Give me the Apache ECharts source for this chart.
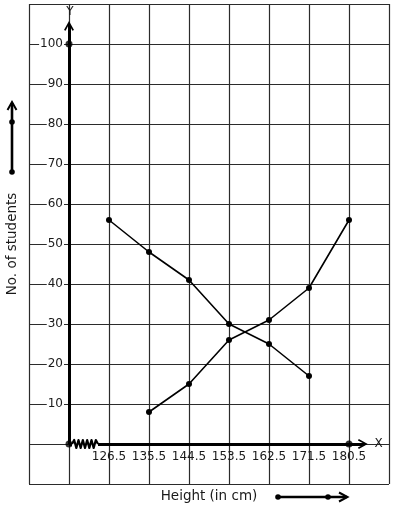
<!DOCTYPE html>
<html><head><meta charset="utf-8">
<script src="https://cdn.jsdelivr.net/npm/echarts@6/dist/echarts.min.js"></script>
<style>html,body{margin:0;padding:0;background:#fff}#c{width:394px;height:510px}</style>
</head><body><div id="c"></div>
<script>
// ---- data ----
const xTickLabels = [126.5, 135.5, 144.5, 153.5, 162.5, 171.5, 180.5];
const lessThanX = [135.5, 144.5, 153.5, 162.5, 171.5, 180.5];
const lessThanY = [8, 15, 26, 31, 39, 56];
const moreThanX = [126.5, 135.5, 144.5, 153.5, 162.5, 171.5];
const moreThanY = [56, 48, 41, 30, 25, 17];
const yTickLabels = [10, 20, 30, 40, 50, 60, 70, 80, 90, 100];
const axisPointX = [117.5, 117.5, 180.5];
const axisPointY = [100, 0, 0];
const breakAt = [121.1, 0];

const FONT = 'DejaVu Sans';
const INK = '#1a1a1a';
const GRID = '#2b2b2b';
const chevron = 'path://M0,9 L5,0 L10,9 L8.4,9.8 L5,3.2 L1.6,9.8 Z M4.1,1.5 L5.9,1.5 L5.9,10 L4.1,10 Z';

const chart = echarts.init(document.getElementById('c'), null, {renderer: 'canvas'});
chart.setOption({
  animation: false,
  backgroundColor: '#fff',
  grid: {left: 29, right: 5, top: 4, bottom: 26, containLabel: false, outerBoundsMode: 'none'},
  xAxis: {
    type: 'value', min: 108.5, max: 189.5, interval: 9, offset: -40,
    axisLine: {show: true, onZero: false, lineStyle: {color: 'rgba(0,0,0,0)'}},
    axisTick: {show: false},
    axisLabel: {
      margin: 7, color: INK, fontFamily: FONT, fontSize: 12,
      formatter: v => (xTickLabels.some(t => Math.abs(t - v) < 1e-6) ? String(v) : '')
    },
    splitLine: {show: true, lineStyle: {color: GRID, width: 1.2}},
    name: 'Height (in cm)', nameLocation: 'middle', nameGap: 45,
    nameTextStyle: {color: INK, fontFamily: FONT, fontSize: 13.5}
  },
  yAxis: {
    type: 'value', min: -10, max: 110, interval: 10, offset: -40,
    axisLine: {show: false, onZero: false},
    axisTick: {show: false},
    axisLabel: {
      margin: 5, color: INK, fontFamily: FONT, fontSize: 12,
      backgroundColor: '#fff', padding: [0, 1],
      formatter: v => (yTickLabels.indexOf(v) >= 0 ? String(v) : '')
    },
    splitLine: {show: true, lineStyle: {color: GRID, width: 1.2}},
    name: 'No. of students', nameLocation: 'middle', nameGap: 50,
    nameTextStyle: {color: INK, fontFamily: FONT, fontSize: 13.5}
  },
  series: [
    {
      type: 'line', name: 'less than',
      data: lessThanX.map((x, i) => [x, lessThanY[i]]),
      symbol: 'circle', symbolSize: 6,
      lineStyle: {color: '#000', width: 1.6}, itemStyle: {color: '#000'}, z: 5
    },
    {
      type: 'line', name: 'more than',
      data: moreThanX.map((x, i) => [x, moreThanY[i]]),
      symbol: 'circle', symbolSize: 6,
      lineStyle: {color: '#000', width: 1.6}, itemStyle: {color: '#000'}, z: 5
    },
    {
      type: 'scatter', name: 'axes',
      data: axisPointX.map((x, i) => [x, axisPointY[i]]),
      symbol: 'circle', symbolSize: 7, itemStyle: {color: '#000'}, z: 6,
      markLine: {
        silent: true, animation: false,
        symbol: ['none', chevron], symbolSize: [10, 10],
        label: {show: false},
        lineStyle: {color: '#000', width: 3, type: 'solid'},
        data: [
          [{coord: [117.5, 0]}, {coord: [117.5, 104.5]}],
          [{coord: [117.5, 0]}, {coord: [183.6, 0]}]
        ]
      }
    }
  ]
});

// axis-break zigzag, placed through the grid's own scale
const c = chart.convertToPixel({gridIndex: 0}, breakAt);
const pts = [];
for (let k = 0; k <= 12; k++) {
  const dx = -13 + k * 26 / 12;
  const dy = k === 0 || k === 12 ? 0 : (k % 2 ? -4 : 4);
  pts.push([c[0] + dx, c[1] + dy]);
}
chart.setOption({
  graphic: [
    {type: 'text', id: 'ylab', x: 70, y: 11.5, style: {text: 'Y', fill: INK, font: '12px "DejaVu Sans"', align: 'center', verticalAlign: 'middle'}, z: 100},
    {type: 'text', id: 'xlab', x: 378.5, y: 443.5, style: {text: 'X', fill: INK, font: '12px "DejaVu Sans"', align: 'center', verticalAlign: 'middle'}, z: 100},
    {type: 'line', id: 'la1', shape: {x1: 12, y1: 172, x2: 12, y2: 103}, style: {stroke: '#000', lineWidth: 2.6}},
    {type: 'polyline', id: 'la2', shape: {points: [[7.5, 110], [12, 102], [16.5, 110]]}, style: {stroke: '#000', lineWidth: 2, fill: null}},
    {type: 'circle', id: 'la3', shape: {cx: 12, cy: 122, r: 2.8}, style: {fill: '#000'}},
    {type: 'circle', id: 'la4', shape: {cx: 12, cy: 172, r: 2.8}, style: {fill: '#000'}},
    {type: 'line', id: 'ba1', shape: {x1: 278, y1: 497, x2: 347, y2: 497}, style: {stroke: '#000', lineWidth: 2.6}},
    {type: 'polyline', id: 'ba2', shape: {points: [[339, 492.5], [347.5, 497], [339, 501.5]]}, style: {stroke: '#000', lineWidth: 2, fill: null}},
    {type: 'circle', id: 'ba3', shape: {cx: 278, cy: 497, r: 2.8}, style: {fill: '#000'}},
    {type: 'circle', id: 'ba4', shape: {cx: 328, cy: 497, r: 2.8}, style: {fill: '#000'}},
    {type: 'rect', id: 'brkbg', shape: {x: c[0] - 13, y: c[1] - 2, width: 26, height: 4}, style: {fill: '#fff'}, z: 100},
    {type: 'polyline', id: 'brk', shape: {points: pts}, style: {stroke: '#000', lineWidth: 2.2, fill: null, lineJoin: 'round'}, z: 101}
  ]
});
</script></body></html>
